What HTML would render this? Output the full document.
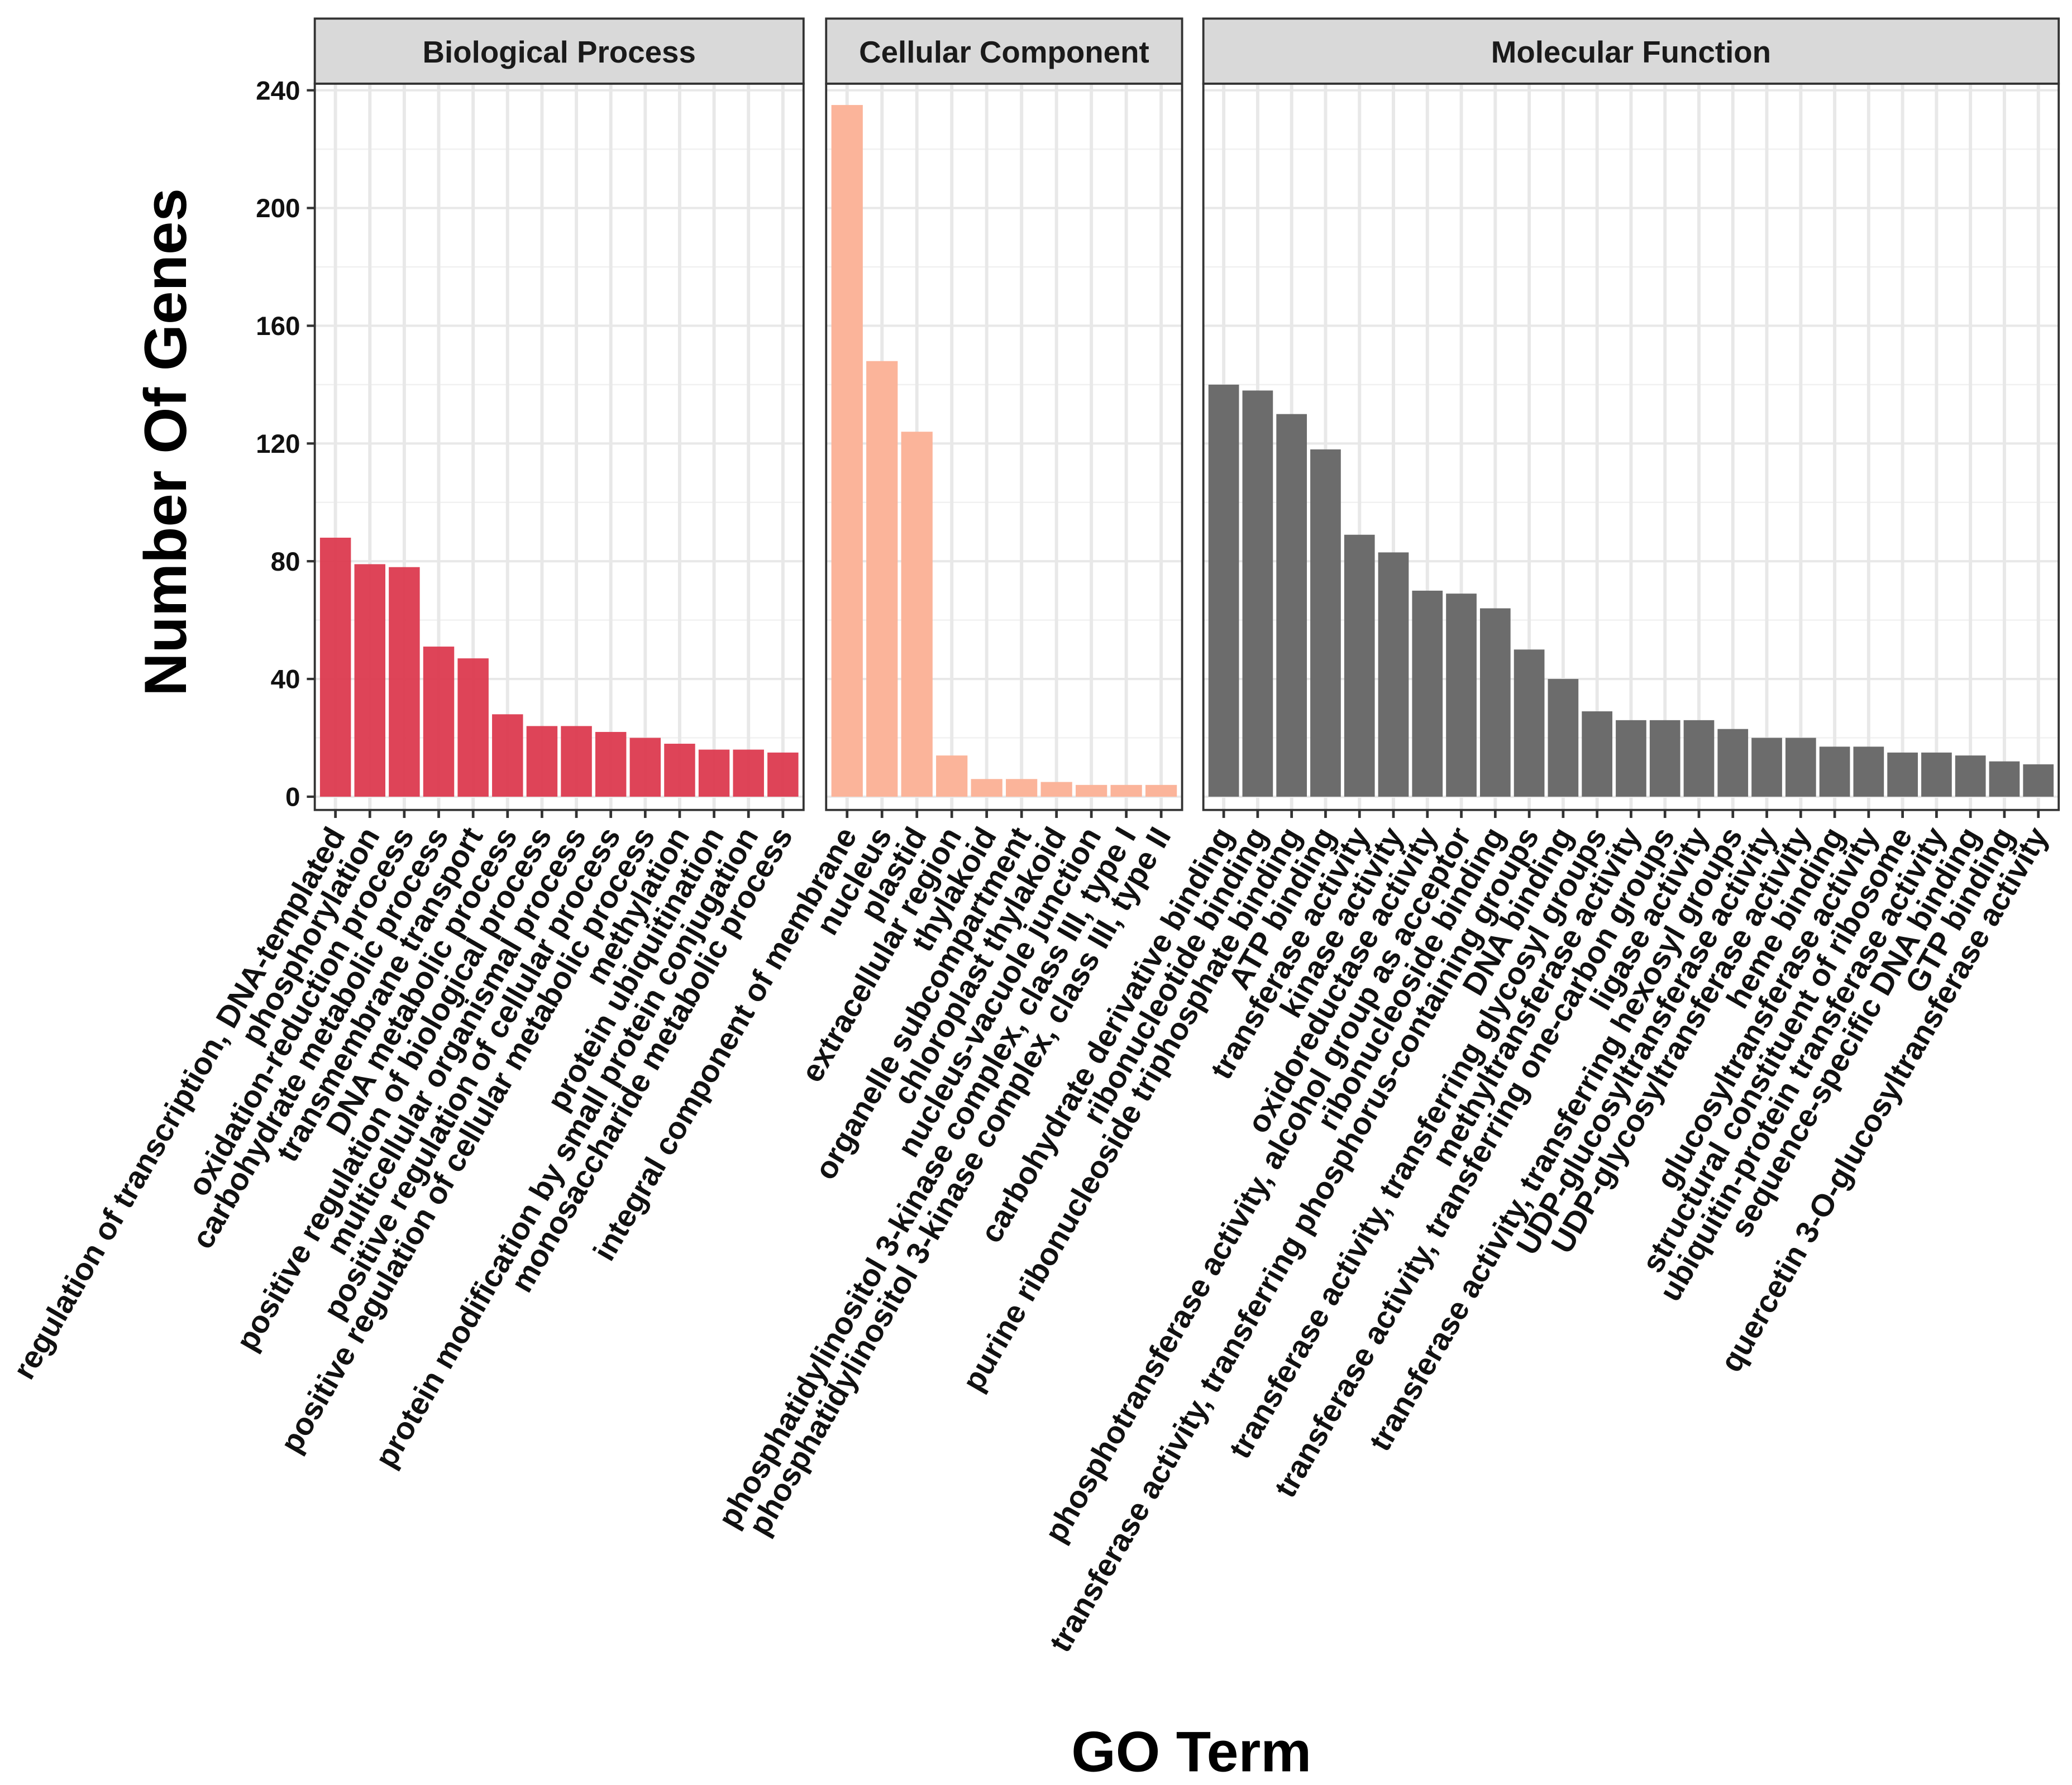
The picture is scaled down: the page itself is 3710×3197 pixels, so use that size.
<!DOCTYPE html>
<html><head><meta charset="utf-8"><style>
html,body{margin:0;padding:0;background:#fff}
svg{display:block}
text{font-family:"Liberation Sans",Arial,sans-serif;font-weight:bold}
</style></head><body>
<svg id="chart" width="3710" height="3197" viewBox="0 0 1560 1344.3" xmlns="http://www.w3.org/2000/svg">
<text x="0" y="0" transform="translate(140,333) rotate(-90)" text-anchor="middle" font-size="45">Number Of Genes</text>
<text x="897" y="1334" text-anchor="middle" font-size="43">GO Term</text>
</svg>
<script>
const bpTerms=["regulation of transcription, DNA-templated","phosphorylation","oxidation-reduction process","carbohydrate metabolic process","transmembrane transport","DNA metabolic process","positive regulation of biological process","multicellular organismal process","positive regulation of cellular process","positive regulation of cellular metabolic process","methylation","protein ubiquitination","protein modification by small protein conjugation","monosaccharide metabolic process"];
const bpValues=[88,79,78,51,47,28,24,24,22,20,18,16,16,15];
const ccTerms=["integral component of membrane","nucleus","plastid","extracellular region","thylakoid","organelle subcompartment","chloroplast thylakoid","nucleus-vacuole junction","phosphatidylinositol 3-kinase complex, class III, type I","phosphatidylinositol 3-kinase complex, class III, type II"];
const ccValues=[235,148,124,14,6,6,5,4,4,4];
const mfTerms=["carbohydrate derivative binding","ribonucleotide binding","purine ribonucleoside triphosphate binding","ATP binding","transferase activity","kinase activity","oxidoreductase activity","phosphotransferase activity, alcohol group as acceptor","ribonucleoside binding","transferase activity, transferring phosphorus-containing groups","DNA binding","transferase activity, transferring glycosyl groups","methyltransferase activity","transferase activity, transferring one-carbon groups","ligase activity","transferase activity, transferring hexosyl groups","UDP-glucosyltransferase activity","UDP-glycosyltransferase activity","heme binding","glucosyltransferase activity","structural constituent of ribosome","ubiquitin-protein transferase activity","sequence-specific DNA binding","GTP binding","quercetin 3-O-glucosyltransferase activity"];
const mfValues=[140,138,130,118,89,83,70,69,64,50,40,29,26,26,26,23,20,20,17,17,15,15,14,12,11];
const yTicks=[0,40,80,120,160,200,240];
const panelTitles=["Biological Process","Cellular Component","Molecular Function"];

const svg=document.getElementById('chart');
const NS="http://www.w3.org/2000/svg";
function mk(tag,attrs,parent){const e=document.createElementNS(NS,tag);for(const k in attrs)e.setAttribute(k,attrs[k]);(parent||svg).appendChild(e);return e;}
const yTop=63,yBot=610;
function y(v){return 600-v*(532/240);}
const panels=[
 {x0:237,x1:605,terms:bpTerms,vals:bpValues,color:"#dc3a4f",op:0.95},
 {x0:622,x1:890,terms:ccTerms,vals:ccValues,color:"#fbb49a",op:1},
 {x0:906,x1:1550,terms:mfTerms,vals:mfValues,color:"#6c6c6c",op:1}
];
panels.forEach((p,pi)=>{
  const g=mk('g',{});
  
  
  const n=p.terms.length,slot=(p.x1-p.x0)/(n+0.2);
  const xc=i=>p.x0+(0.6+i)*slot;
  for(let t=20;t<260;t+=40){mk('line',{x1:p.x0,x2:p.x1,y1:y(t),y2:y(t),stroke:"#f0f0f0","stroke-width":1},g);}
  yTicks.forEach(t=>{const l=mk('line',{x1:p.x0,x2:p.x1,y1:y(t),y2:y(t),stroke:"#e8e8e8","stroke-width":1.7},g);
    
    });
  for(let i=0;i<n;i++){mk('line',{x1:xc(i),x2:xc(i),y1:yTop,y2:yBot,stroke:"#e8e8e8","stroke-width":2.5},g);}
  p.vals.forEach((v,i)=>{const r=mk('rect',{x:xc(i)-0.45*slot,width:0.9*slot,y:y(v),height:y(0)-y(v),fill:p.color,"fill-opacity":p.op},g);
    
    });
  mk('rect',{x:p.x0,y:yTop,width:p.x1-p.x0,height:yBot-yTop,fill:"none",stroke:"#333","stroke-width":1.6},g);
  const s=mk('rect',{x:p.x0,y:14,width:p.x1-p.x0,height:49,fill:"#d9d9d9",stroke:"#333","stroke-width":1.6},g);
  
  
  const st=mk('text',{x:(p.x0+p.x1)/2,y:47,"text-anchor":"middle","font-size":23,fill:"#1a1a1a"},g);
  st.textContent=panelTitles[pi];
  
  
  p.terms.forEach((t,i)=>{
    mk('line',{x1:xc(i),x2:xc(i),y1:yBot,y2:yBot+6,stroke:"#333","stroke-width":2},g);
    const tx=mk('text',{x:0,y:0,"text-anchor":"end","font-size":23.5,fill:"#111",transform:`translate(${xc(i)+8},${yBot+19}) rotate(-60)`},g);
    tx.textContent=t;
    
    
  });
});
yTicks.forEach(t=>{
  mk('line',{x1:231,x2:237,y1:y(t),y2:y(t),stroke:"#333","stroke-width":1.8});
  const tx=mk('text',{x:226,y:y(t)+7,"text-anchor":"end","font-size":20,fill:"#111"});
  tx.textContent=t;
  
  
});
</script>
</body></html>
